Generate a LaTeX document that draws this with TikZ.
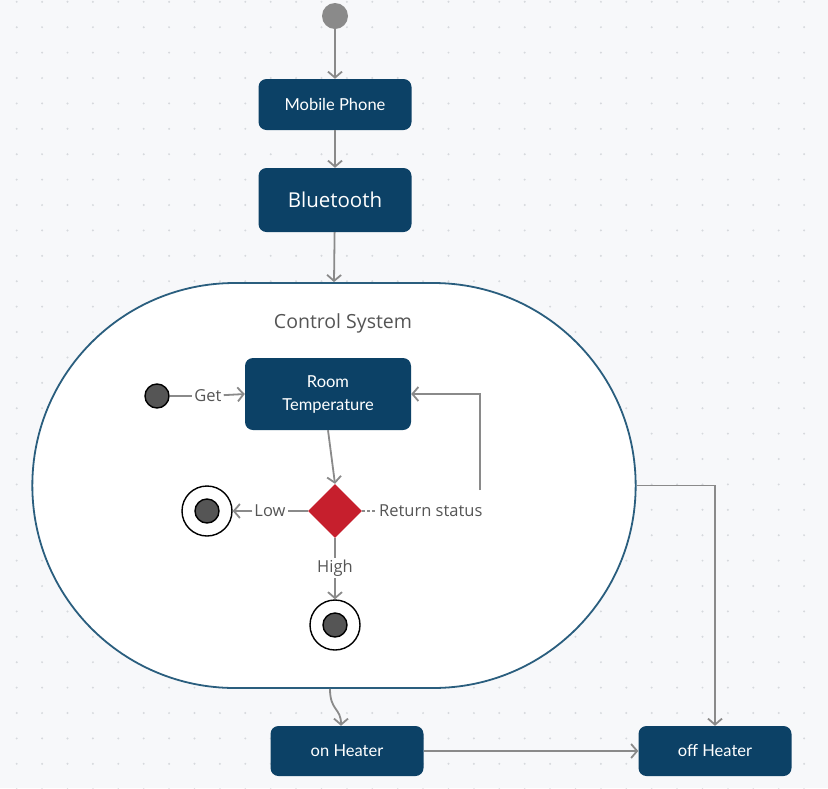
\documentclass[tikz,border=0pt]{standalone}
\usepackage{fontspec}
\setmainfont{Lato}
\newfontfamily\opensans{Open Sans}
\usetikzlibrary{arrows.meta,shapes.geometric,shapes.misc}

\definecolor{boxnavy}{HTML}{0C4166}
\definecolor{rimblue}{HTML}{2A5E7E}
\definecolor{flowgray}{HTML}{8A8A8A}
\definecolor{labelgray}{HTML}{555555}
\definecolor{paper}{HTML}{F7F8FA}
\definecolor{griddot}{HTML}{D6D9DD}
\definecolor{decred}{HTML}{C61F2D}

\tikzset{
  statebox/.style={fill=boxnavy, rounded corners=8pt, text=white, align=center,
    minimum width=153pt, minimum height=51pt, inner sep=2pt},
  flow/.style={draw=flowgray, line width=1.8pt, -{Straight Barb[length=6pt,width=14pt]}},
  link/.style={draw=flowgray, line width=1.8pt},
  lbl/.style={text=labelgray, font=\opensans\fontsize{16.5}{18}\selectfont, inner sep=2pt},
  finalring/.style={circle, draw=black, line width=1.4pt, fill=white, minimum size=50pt, inner sep=0pt},
  finaldot/.style={circle, draw=black, line width=1.4pt, fill=labelgray, minimum size=24pt, inner sep=0pt},
}

\begin{document}
\begin{tikzpicture}[x=1pt,y=-1pt]
  \useasboundingbox (0,0) rectangle (828,788);
  \fill[paper] (0,0) rectangle (828,788);
  % dotted grid
  \foreach \i in {0,...,32}
    \foreach \j in {0,...,31}
      \fill[griddot] (16.7+25.4*\i,1.8+25.4*\j) circle (1.1);

  % top flow
  \node[circle, fill=flowgray, minimum size=26pt, inner sep=0pt] (start) at (335,16) {};
  \node[statebox, font=\fontsize{16.5}{18}\selectfont] (phone) at (335,104.5) {Mobile Phone};
  \node[statebox, minimum height=64pt, font=\opensans\fontsize{20.5}{24}\selectfont] (bt) at (335,200) {Bluetooth};

  % control system
  \node[rounded rectangle, draw=rimblue, line width=1.8pt, fill=white,
    minimum width=610pt, minimum height=405pt] (ctrl) at (334,485.5) {};
  \node[text=labelgray, font=\opensans\fontsize{19.5}{22}\selectfont] (ctrltitle) at (343,323) {Control System};

  \node[circle, draw=black, line width=1.4pt, fill=labelgray, minimum size=24pt, inner sep=0pt] (inner) at (157,396) {};
  \node[lbl] (get) at (208,396) {Get};
  \node[statebox, minimum width=166pt, minimum height=72pt, font=\fontsize{16.5}{23}\selectfont] (room) at (328,394) {Room\\Temperature};

  \node[diamond, fill=decred, minimum size=54pt, inner sep=0pt] (dec) at (335,511) {};
  \node[lbl] (low) at (270,511) {Low};
  \node[lbl] (high) at (335,568) {High};
  \node[lbl, anchor=west] (ret) at (377,511) {Return status};
  \coordinate (retup) at (480,490);

  \node[finalring] (endlow) at (207,511) {};
  \node[finaldot] at (endlow) {};
  \node[finalring] (endhigh) at (335,625) {};
  \node[finaldot] at (endhigh) {};

  % heaters
  \node[statebox, minimum height=50pt, font=\fontsize{16.5}{18}\selectfont] (on) at (347,751) {on Heater};
  \node[statebox, minimum height=50pt, font=\fontsize{16.5}{18}\selectfont] (off) at (715,751) {off Heater};

  % connectors
  \draw[flow] (start) -- (phone);
  \draw[flow] (phone) -- (bt);
  \draw[flow] (bt) -- (ctrl.north);
  \draw[link] (inner) -- (get);
  \draw[flow] (get) -- (room.west);
  \draw[flow] (room.south) -- (dec.north);
  \draw[link] (dec.west) -- (low);
  \draw[flow] (low) -- (endlow);
  \draw[link] (dec.south) -- (high);
  \draw[flow] (high) -- (endhigh);
  \draw[link, line width=1.2pt, dash pattern=on 3pt off 2pt] (dec.east) -- (ret.west);
  \draw[flow] (retup) |- (room.east);
  \draw[flow] (ctrl.east) -| (off.north);
  \draw[flow] ([xshift=-4pt]ctrl.south) .. controls +(0,22) and +(0,-18) .. ([xshift=-6pt]on.north);
  \draw[flow] (on) -- (off);
\end{tikzpicture}
\end{document}
